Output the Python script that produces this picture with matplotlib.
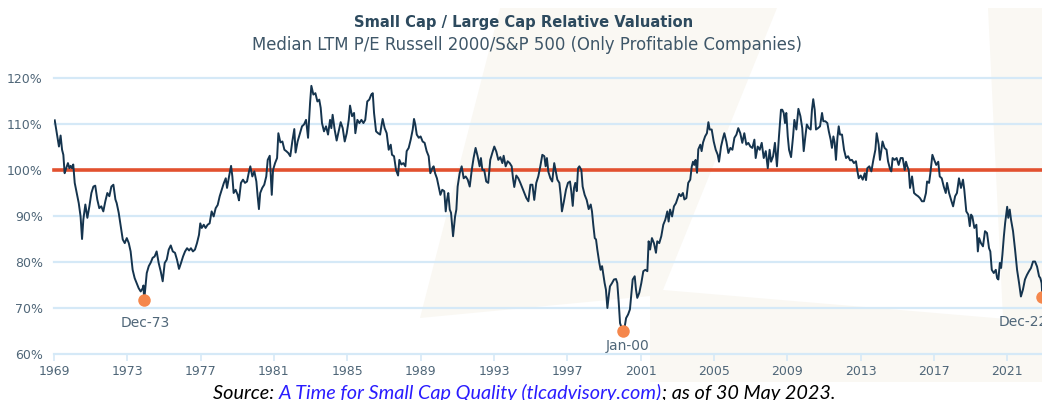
import matplotlib
matplotlib.use("Agg")
import matplotlib.pyplot as plt
from matplotlib.patches import Polygon

# relative valuation (%)
dates = [
    1969.04, 1969.18, 1969.27, 1969.36, 1969.44, 1969.51, 1969.58, 1969.65, 1969.76, 1969.84,
    1969.91, 1969.98, 1970.05, 1970.13, 1970.24, 1970.35, 1970.45, 1970.53, 1970.60, 1970.71,
    1970.82, 1970.93, 1971.04, 1971.15, 1971.25, 1971.36, 1971.47, 1971.58, 1971.69, 1971.80,
    1971.91, 1972.02, 1972.13, 1972.24, 1972.35, 1972.42, 1972.53, 1972.64, 1972.75, 1972.86,
    1972.97, 1973.08, 1973.18, 1973.29, 1973.40, 1973.51, 1973.62, 1973.73, 1973.84, 1973.88,
    1973.92, 1974.06, 1974.17, 1974.28, 1974.38, 1974.49, 1974.60, 1974.71, 1974.82, 1974.93,
    1975.04, 1975.15, 1975.26, 1975.37, 1975.48, 1975.60, 1975.71, 1975.82, 1975.93, 1976.04,
    1976.15, 1976.26, 1976.37, 1976.47, 1976.58, 1976.69, 1976.80, 1976.91, 1976.98, 1977.06,
    1977.17, 1977.27, 1977.38, 1977.49, 1977.60, 1977.71, 1977.82, 1977.93, 1978.04, 1978.15,
    1978.26, 1978.37, 1978.44, 1978.55, 1978.66, 1978.73, 1978.80, 1978.91, 1979.02, 1979.09,
    1979.20, 1979.31, 1979.42, 1979.53, 1979.64, 1979.71, 1979.82, 1979.93, 1980.04, 1980.11,
    1980.18, 1980.25, 1980.36, 1980.47, 1980.58, 1980.66, 1980.77, 1980.88, 1980.95, 1981.06,
    1981.17, 1981.24, 1981.35, 1981.46, 1981.57, 1981.67, 1981.78, 1981.89, 1982.00, 1982.11,
    1982.18, 1982.29, 1982.40, 1982.53, 1982.64, 1982.75, 1982.86, 1982.97, 1983.04, 1983.15,
    1983.26, 1983.37, 1983.47, 1983.55, 1983.62, 1983.73, 1983.84, 1983.95, 1984.06, 1984.13,
    1984.20, 1984.31, 1984.42, 1984.53, 1984.64, 1984.75, 1984.86, 1984.97, 1985.08, 1985.15,
    1985.26, 1985.37, 1985.44, 1985.55, 1985.66, 1985.77, 1985.88, 1985.98, 1986.09, 1986.20,
    1986.31, 1986.39, 1986.46, 1986.57, 1986.68, 1986.79, 1986.86, 1986.93, 1987.04, 1987.15,
    1987.26, 1987.37, 1987.44, 1987.55, 1987.66, 1987.77, 1987.84, 1987.95, 1988.06, 1988.17,
    1988.24, 1988.35, 1988.46, 1988.57, 1988.64, 1988.71, 1988.79, 1988.90, 1989.00, 1989.11,
    1989.22, 1989.33, 1989.44, 1989.53, 1989.64, 1989.71, 1989.79, 1989.89, 1990.00, 1990.08,
    1990.18, 1990.29, 1990.37, 1990.44, 1990.51, 1990.59, 1990.66, 1990.77, 1990.88, 1990.95,
    1991.02, 1991.13, 1991.24, 1991.35, 1991.46, 1991.57, 1991.68, 1991.79, 1991.89, 1992.00,
    1992.11, 1992.22, 1992.29, 1992.37, 1992.47, 1992.58, 1992.69, 1992.80, 1992.91, 1993.02,
    1993.13, 1993.24, 1993.35, 1993.46, 1993.53, 1993.64, 1993.75, 1993.86, 1993.97, 1994.04,
    1994.11, 1994.22, 1994.33, 1994.44, 1994.55, 1994.66, 1994.77, 1994.88, 1994.99, 1995.10,
    1995.20, 1995.31, 1995.42, 1995.53, 1995.64, 1995.75, 1995.82, 1995.89, 1995.97, 1996.08,
    1996.18, 1996.29, 1996.46, 1996.57, 1996.64, 1996.71, 1996.82, 1996.93, 1997.04, 1997.15,
    1997.22, 1997.30, 1997.37, 1997.44, 1997.52, 1997.59, 1997.66, 1997.77, 1997.84, 1997.95,
    1998.06, 1998.17, 1998.28, 1998.35, 1998.42, 1998.50, 1998.57, 1998.64, 1998.75, 1998.82,
    1998.90, 1998.97, 1999.04, 1999.11, 1999.19, 1999.26, 1999.33, 1999.44, 1999.55, 1999.66,
    1999.73, 1999.81, 1999.88, 2000.04, 2000.12, 2000.21, 2000.32, 2000.42, 2000.50, 2000.57,
    2000.68, 2000.75, 2000.82, 2000.93, 2001.04, 2001.15, 2001.26, 2001.37, 2001.44, 2001.52,
    2001.62, 2001.73, 2001.84, 2001.91, 2002.02, 2002.13, 2002.24, 2002.35, 2002.46, 2002.53,
    2002.61, 2002.72, 2002.82, 2002.93, 2003.10, 2003.20, 2003.31, 2003.39, 2003.50, 2003.60,
    2003.71, 2003.79, 2003.86, 2003.93, 2004.00, 2004.08, 2004.15, 2004.26, 2004.33, 2004.41,
    2004.52, 2004.62, 2004.70, 2004.77, 2004.88, 2004.99, 2005.10, 2005.21, 2005.28, 2005.39,
    2005.50, 2005.57, 2005.68, 2005.79, 2005.90, 2006.01, 2006.12, 2006.23, 2006.33, 2006.44,
    2006.55, 2006.66, 2006.77, 2006.88, 2006.99, 2007.10, 2007.21, 2007.28, 2007.39, 2007.50,
    2007.61, 2007.72, 2007.83, 2007.94, 2008.04, 2008.12, 2008.23, 2008.33, 2008.44, 2008.55,
    2008.66, 2008.73, 2008.81, 2008.88, 2008.95, 2009.03, 2009.10, 2009.21, 2009.32, 2009.39,
    2009.50, 2009.61, 2009.72, 2009.82, 2009.90, 2009.99, 2010.07, 2010.18, 2010.28, 2010.35,
    2010.42, 2010.50, 2010.57, 2010.68, 2010.79, 2010.90, 2010.97, 2011.08, 2011.19, 2011.27,
    2011.37, 2011.44, 2011.52, 2011.59, 2011.66, 2011.74, 2011.81, 2011.88, 2011.99, 2012.10,
    2012.21, 2012.32, 2012.43, 2012.53, 2012.64, 2012.75, 2012.82, 2012.90, 2013.01, 2013.12,
    2013.23, 2013.30, 2013.37, 2013.48, 2013.59, 2013.70, 2013.81, 2013.88, 2013.99, 2014.06,
    2014.13, 2014.20, 2014.31, 2014.42, 2014.50, 2014.61, 2014.68, 2014.75, 2014.86, 2014.97,
    2015.08, 2015.19, 2015.30, 2015.41, 2015.48, 2015.55, 2015.63, 2015.70, 2015.81, 2015.92,
    2016.03, 2016.14, 2016.24, 2016.35, 2016.46, 2016.57, 2016.63, 2016.74, 2016.81, 2016.92,
    2017.02, 2017.13, 2017.24, 2017.32, 2017.43, 2017.54, 2017.65, 2017.72, 2017.83, 2017.94,
    2018.05, 2018.16, 2018.26, 2018.37, 2018.48, 2018.59, 2018.66, 2018.77, 2018.88, 2018.96,
    2019.03, 2019.10, 2019.21, 2019.32, 2019.40, 2019.47, 2019.57, 2019.68, 2019.79, 2019.90,
    2020.01, 2020.08, 2020.16, 2020.27, 2020.38, 2020.45, 2020.52, 2020.60, 2020.67, 2020.74,
    2020.82, 2020.89, 2021.00, 2021.06, 2021.14, 2021.21, 2021.32, 2021.43, 2021.54, 2021.65,
    2021.75, 2021.86, 2021.97, 2022.08, 2022.19, 2022.30, 2022.41, 2022.52, 2022.63, 2022.74,
    2022.81, 2022.88, 2022.92,
]
ratio = [
    110.8, 107.3, 105.1, 107.5, 104.4, 103.3, 99.3, 100.2, 101.5, 100.4,
    100.9, 100.4, 101.2, 97.2, 95.0, 92.8, 89.9, 85.0, 89.2, 92.5,
    89.6, 92.1, 95.0, 96.4, 96.6, 93.6, 91.7, 92.1, 91.0, 93.2,
    95.0, 94.3, 96.4, 96.8, 93.6, 92.8, 90.7, 87.8, 84.9, 84.1,
    85.2, 84.1, 82.3, 78.3, 76.5, 75.4, 74.3, 73.6, 74.3, 74.9,
    71.7, 77.6, 79.1, 79.9, 80.9, 81.2, 82.3, 79.8, 78.0, 75.8,
    79.8, 80.5, 82.7, 83.6, 82.3, 82.0, 80.5, 78.5, 79.8, 81.2,
    82.3, 83.0, 82.5, 83.0, 82.3, 82.7, 84.1, 85.9, 88.4, 87.4,
    88.1, 87.4, 88.1, 88.4, 91.0, 89.9, 91.7, 92.4, 94.3, 95.7,
    97.1, 98.2, 96.1, 98.6, 100.9, 98.6, 95.0, 95.7, 94.6, 93.4,
    97.2, 97.9, 97.2, 97.5, 99.7, 100.8, 98.6, 99.7, 97.5, 94.3,
    91.5, 95.0, 96.1, 96.8, 98.6, 102.2, 103.1, 94.6, 100.0, 101.5,
    102.6, 108.0, 106.0, 106.2, 104.4, 104.1, 103.7, 103.0, 106.2, 108.9,
    103.8, 106.2, 107.7, 109.5, 109.9, 110.9, 107.0, 114.6, 118.3, 116.4,
    116.7, 114.9, 115.3, 113.5, 110.2, 108.4, 109.5, 107.7, 110.9, 109.1,
    112.0, 108.8, 106.4, 108.4, 110.4, 109.1, 106.2, 108.0, 110.9, 114.0,
    111.7, 112.4, 108.0, 110.9, 110.2, 110.9, 110.2, 110.9, 114.9, 115.3,
    116.4, 116.7, 112.4, 108.4, 108.0, 107.7, 109.5, 111.1, 109.1, 108.0,
    104.4, 105.5, 103.3, 103.0, 100.0, 98.8, 102.2, 101.2, 101.5, 100.8,
    104.1, 104.8, 106.6, 108.8, 111.1, 109.9, 107.7, 107.0, 107.3, 106.2,
    105.9, 104.1, 103.0, 99.3, 100.4, 100.8, 99.3, 98.2, 96.1, 94.6,
    95.7, 95.4, 91.0, 93.5, 95.0, 91.4, 90.7, 85.6, 89.9, 91.4,
    96.4, 99.3, 100.8, 98.2, 98.6, 97.9, 96.4, 100.0, 102.6, 104.8,
    103.0, 100.8, 102.6, 100.0, 100.0, 97.5, 97.2, 102.2, 103.7, 105.1,
    104.0, 102.2, 102.8, 101.5, 103.1, 100.8, 101.9, 101.5, 100.8, 98.2,
    96.3, 98.8, 98.2, 97.2, 96.1, 95.0, 93.9, 93.2, 96.8, 96.8,
    93.5, 97.2, 98.6, 100.8, 103.3, 103.0, 100.8, 102.6, 99.6, 98.2,
    97.5, 101.5, 97.9, 97.2, 94.6, 91.0, 93.2, 95.7, 97.2, 97.5,
    95.4, 92.2, 96.1, 97.2, 95.4, 100.4, 100.8, 100.0, 96.4, 94.6,
    93.5, 91.5, 92.5, 91.0, 88.1, 85.2, 84.9, 82.7, 79.8, 78.3,
    79.1, 77.3, 75.4, 74.0, 70.0, 72.5, 74.7, 75.4, 76.2, 76.3,
    75.4, 71.1, 66.7, 64.9, 65.6, 67.8, 68.6, 69.7, 73.3, 76.2,
    76.9, 74.0, 72.2, 73.3, 75.4, 78.0, 78.3, 78.0, 84.5, 82.7,
    85.2, 84.1, 82.0, 84.5, 84.1, 85.6, 88.1, 89.2, 91.0, 88.8,
    91.4, 89.9, 92.1, 92.8, 94.8, 94.3, 95.0, 93.6, 93.9, 97.2,
    97.9, 100.7, 101.8, 101.1, 102.2, 99.4, 104.5, 105.5, 104.1, 106.0,
    107.3, 108.0, 110.4, 108.8, 108.8, 106.2, 104.4, 103.3, 101.8, 105.1,
    107.0, 108.0, 106.2, 103.7, 104.8, 104.4, 107.0, 107.7, 109.1, 108.0,
    105.9, 108.0, 105.5, 105.9, 105.1, 104.8, 106.6, 102.6, 105.1, 104.4,
    105.9, 102.6, 104.1, 100.4, 104.4, 101.8, 103.0, 105.9, 100.8, 107.3,
    113.1, 113.1, 112.4, 110.2, 112.4, 107.3, 104.4, 102.8, 107.3, 110.9,
    108.8, 113.3, 111.7, 109.1, 104.1, 107.3, 109.9, 109.1, 108.8, 113.1,
    115.4, 113.1, 108.8, 109.1, 109.5, 112.4, 110.6, 110.6, 110.2, 108.4,
    106.6, 104.8, 107.3, 105.9, 102.2, 107.0, 109.5, 107.7, 107.7, 104.4,
    102.6, 103.0, 102.1, 102.2, 101.5, 101.9, 100.0, 98.2, 98.8, 97.9,
    99.3, 97.8, 100.4, 100.8, 99.7, 102.2, 104.4, 108.0, 105.5, 102.2,
    104.1, 106.2, 104.8, 104.4, 101.9, 100.2, 99.7, 102.6, 102.2, 102.6,
    101.1, 102.6, 102.6, 100.0, 101.8, 100.8, 100.0, 96.1, 98.6, 95.0,
    94.6, 94.3, 93.9, 93.2, 93.2, 95.0, 97.5, 97.2, 99.3, 103.3,
    102.2, 101.1, 101.8, 98.6, 98.2, 96.4, 95.0, 97.2, 95.0, 93.5,
    92.1, 94.3, 95.0, 98.2, 96.1, 97.9, 95.7, 91.0, 90.3, 87.8,
    90.3, 89.9, 87.4, 88.1, 82.3, 85.2, 84.1, 83.4, 86.7, 86.3,
    83.0, 82.3, 78.3, 77.6, 78.3, 76.5, 76.2, 79.8, 78.7, 81.6,
    85.6, 88.5, 92.0, 89.6, 91.4, 89.2, 86.7, 82.7, 78.3, 75.4,
    72.5, 74.0, 76.2, 77.2, 78.0, 78.7, 80.1, 80.1, 79.0, 76.9,
    76.5, 75.4, 72.5,
]

# lows highlighted on the chart
low_labels = ["Dec-73", "Jan-00", "Dec-22"]
low_dates = [1973.92, 2000.04, 2022.92]
low_values = [71.7, 64.9, 72.5]

yticks = [60, 70, 80, 90, 100, 110, 120]
ytick_labels = ["60%", "70%", "80%", "90%", "100%", "110%", "120%"]
xticks = [1969, 1973, 1977, 1981, 1985, 1989, 1993, 1997, 2001, 2005, 2009, 2013, 2017, 2021]

W, H = 1042, 400
fig = plt.figure(figsize=(W / 100, H / 100), dpi=100)
fig.patch.set_facecolor("white")

# faint watermark shapes in the background (pixel coords, y down)
def px(pts):
    return [(x / W, 1 - y / H) for x, y in pts]

wm = "#faf8f3"
fig.patches.append(Polygon(px([(500, 8), (777, 8), (663, 290), (1042, 322), (1042, 382),
                               (650, 382), (650, 296), (420, 318)]),
                           closed=True, transform=fig.transFigure, fc=wm, ec="none", zorder=-5))
fig.patches.append(Polygon(px([(988, 8), (1042, 8), (1042, 322), (1003, 318)]),
                           closed=True, transform=fig.transFigure, fc=wm, ec="none", zorder=-5))

ax = fig.add_axes([54 / W, 46 / H, 1 - 54 / W, (354 - 78) / H])
ax.set_zorder(1)
ax.set_facecolor("none")
ax.set_xlim(1969, 2022.9)
ax.set_ylim(60, 120)
for s in ax.spines.values():
    s.set_visible(False)

grid_c = "#d5e9f7"
for v in yticks:
    if v == 100:
        continue
    ax.axhline(v, color=grid_c, lw=1.6, zorder=1, clip_on=False)
ax.axhline(100, color="#e2512f", lw=2.6, zorder=3, clip_on=False)

ax.plot(dates, ratio, color="#15344e", lw=1.4, zorder=4)

ax.plot(low_dates, low_values, "o", color="#f5874c", ms=9, mec="none", zorder=5, clip_on=False)
label_x = [1973.96, 2000.28, 2021.87]
label_y = [66.7, 61.7, 67.0]
for lx, ly, t in zip(label_x, label_y, low_labels):
    ax.text(lx, ly, t, ha="center", va="center", fontsize=10, color="#4f6678")

tick_c = "#4f6678"
ax.set_yticks(yticks)
ax.set_yticklabels(ytick_labels)
ax.set_xticks(xticks)
ax.set_xticklabels([str(x) for x in xticks])
ax.tick_params(axis="y", length=0, pad=8, labelsize=9, labelcolor=tick_c)
ax.tick_params(axis="x", length=5, width=1.2, color=grid_c, pad=3, labelsize=9, labelcolor=tick_c)

fig.text(524 / W, 1 - 22 / H, "Small Cap / Large Cap Relative Valuation", ha="center", va="center",
         fontsize=10.6, fontweight="bold", color="#2d4a5e")
fig.text(527 / W, 1 - 45 / H, "Median LTM P/E Russell 2000/S&P 500 (Only Profitable Companies)",
         ha="center", va="center", fontsize=11.9, color="#3e5668")

# source line, three pieces side by side
parts = [("Source: ", "black"), ("A Time for Small Cap Quality (tlcadvisory.com)", "#2a1cff"),
         ("; as of 30 May 2023.", "black")]
fig.canvas.draw()
r = fig.canvas.get_renderer()
xpos = 213
for txt, col in parts:
    t = fig.text(xpos / W, 1 - 399 / H, txt, ha="left", va="baseline", fontsize=14.3,
                 style="italic", family="Lato", color=col)
    bb = t.get_window_extent(renderer=r)
    xpos += bb.width

fig.savefig("out.png", dpi=100)
